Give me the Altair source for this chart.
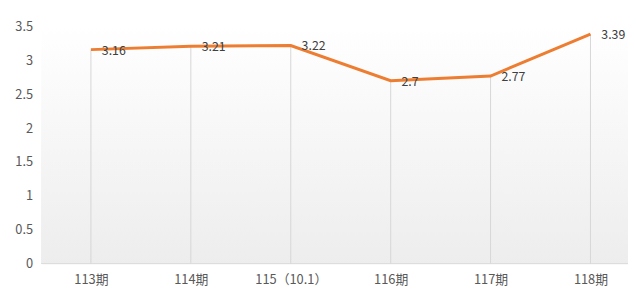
import altair as alt
import pandas as pd

categories = ["113期", "114期", "115（10.1）", "116期", "117期", "118期"]
values = [3.16, 3.21, 3.22, 2.7, 2.77, 3.39]
labels = ["3.16", "3.21", "3.22", "2.7", "2.77", "3.39"]
y_ticks = [0, 0.5, 1, 1.5, 2, 2.5, 3, 3.5]

df = pd.DataFrame({"cat": categories, "val": values, "lab": labels})

W = 594
H = 240
FONT = "Noto Sans CJK SC"

x_enc = alt.X("cat:N", sort=categories,
              scale=alt.Scale(type="point", range=[50, 556], padding=0),
              axis=alt.Axis(title=None, labelAngle=0, ticks=False, domain=False,
                            labelColor="#595959", labelFont=FONT,
                            labelFontSize=13, labelPadding=10, grid=False))
y_enc = alt.Y("val:Q", scale=alt.Scale(domain=[0, 3.5], nice=False),
              axis=alt.Axis(title=None, values=y_ticks, ticks=False, domain=False, grid=False,
                            labelColor="#595959", labelFont=FONT, labelFontSize=13,
                            labelPadding=9, labelOverlap=False, labelExpr="datum.value"))

bg = alt.Chart(df).mark_rect(
    color=alt.Gradient(gradient="linear", x1=0, y1=0, x2=0, y2=1,
                       stops=[alt.GradientStop(color="#ffffff", offset=0),
                              alt.GradientStop(color="#eeeded", offset=1)])
).encode(x=alt.value(0), x2=alt.value(W), y=alt.value(0), y2=alt.value(H))

base_line = alt.Chart(df).mark_rule(color="#dcdcdc", strokeWidth=1).encode(
    x=alt.value(0), x2=alt.value(W), y=alt.value(H))

drops = alt.Chart(df).mark_rule(color="#d6d6d6", strokeWidth=1).encode(
    x=x_enc, y=y_enc, y2=alt.datum(0))

line = alt.Chart(df).mark_line(color="#ED7D31", strokeWidth=3).encode(x=x_enc, y=y_enc)

text = alt.Chart(df).mark_text(align="left", baseline="middle", dx=11, dy=1,
                               color="#404040", font=FONT, fontSize=12.5).encode(
    x=x_enc, y=y_enc, text="lab:N")

chart = alt.layer(bg, base_line, drops, line, text).properties(
    width=W, height=H,
    autosize=alt.AutoSizeParams(type="none"),
    padding={"left": 34, "top": 17, "right": 0, "bottom": 27},
).configure_view(stroke=None)

chart.save("out.html", embed_options={"renderer": "svg", "actions": False})
